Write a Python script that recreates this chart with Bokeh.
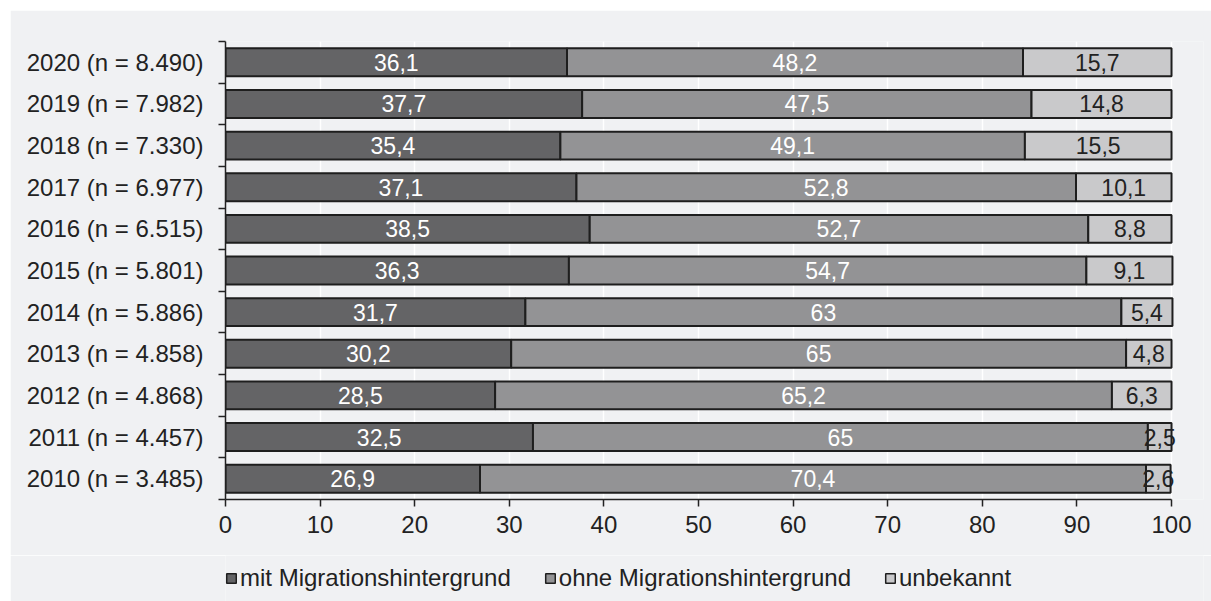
from bokeh.plotting import figure
from bokeh.layouts import column
from bokeh.models import ColumnDataSource, FixedTicker, Legend, LegendItem, Range1d
from bokeh.embed import file_html
from bokeh.resources import INLINE
from bokeh.core.properties import value

# ---- data (bottom to top) ----
categories = ["2010 (n = 3.485)", "2011 (n = 4.457)", "2012 (n = 4.868)", "2013 (n = 4.858)",
              "2014 (n = 5.886)", "2015 (n = 5.801)", "2016 (n = 6.515)", "2017 (n = 6.977)",
              "2018 (n = 7.330)", "2019 (n = 7.982)", "2020 (n = 8.490)"]
mit = [26.9, 32.5, 28.5, 30.2, 31.7, 36.3, 38.5, 37.1, 35.4, 37.7, 36.1]
ohne = [70.4, 65, 65.2, 65, 63, 54.7, 52.7, 52.8, 49.1, 47.5, 48.2]
unbekannt = [2.6, 2.5, 6.3, 4.8, 5.4, 9.1, 8.8, 10.1, 15.5, 14.8, 15.7]
series_names = ["mit Migrationshintergrund", "ohne Migrationshintergrund", "unbekannt"]
x_ticks = [0, 10, 20, 30, 40, 50, 60, 70, 80, 90, 100]

colors = ["#646466", "#939395", "#c9c9cb"]
label_colors = ["#ffffff", "#ffffff", "#222222"]
BG = "#f0f1f3"
FONT = "Liberation Sans"
EDGE = "#1e1e1e"


def fmt(v):
    return ("%g" % v).replace(".", ",")


n = len(categories)
ys = [i + 0.5 for i in range(n)]

# frame spans a little past 100 so that overflowing labels stay visible
p = figure(width=1201, height=545, output_backend="svg", toolbar_location=None,
           x_range=Range1d(0, 103.38), y_range=Range1d(0, n),
           min_border_left=215, min_border_right=8, min_border_top=31, min_border_bottom=56)
p.background_fill_color = BG
p.border_fill_color = BG
p.outline_line_color = None

series = [mit, ohne, unbekannt]
lefts = [0.0] * n
legend_sources = []
text_x, text_y, text_s, text_c = [], [], [], []
for k, vals in enumerate(series):
    rights = [l + v for l, v in zip(lefts, vals)]
    src = ColumnDataSource(dict(y=ys, left=lefts, right=rights))
    # same bars without a vertical position: used only to draw the legend swatches
    legend_sources.append(ColumnDataSource(dict(y=[float("nan")] * n, left=lefts, right=rights)))
    p.hbar(y="y", left="left", right="right", height=0.67, source=src,
           fill_color=colors[k], line_color=EDGE, line_width=2)
    for i in range(n):
        text_x.append((lefts[i] + rights[i]) / 2)
        text_y.append(ys[i])
        text_s.append(fmt(vals[i]))
        text_c.append(label_colors[k])
    lefts = rights

tsrc = ColumnDataSource(dict(x=text_x, y=text_y, t=text_s, c=text_c))
p.text(x="x", y="y", text="t", text_color="c", source=tsrc,
       text_font=value(FONT), text_font_size=value("23px"),
       text_align="center", text_baseline="middle")

# grid
p.xgrid.ticker = FixedTicker(ticks=x_ticks)
p.xgrid.grid_line_color = "#ffffff"
p.xgrid.grid_line_width = 1.5
p.ygrid.grid_line_color = None

# x axis
p.xaxis.ticker = FixedTicker(ticks=x_ticks)
p.xaxis.bounds = (x_ticks[0], x_ticks[-1])
p.xaxis.major_tick_out = 7
p.xaxis.major_tick_in = 0
p.xaxis.minor_tick_line_color = None
p.xaxis.axis_line_color = "#222222"
p.xaxis.axis_line_width = 1.5
p.xaxis.major_tick_line_color = "#222222"
p.xaxis.major_tick_line_width = 1.5
p.xaxis.major_label_text_font = FONT
p.xaxis.major_label_text_font_size = "24px"
p.xaxis.major_label_text_color = "#222222"
p.xaxis.major_label_standoff = 9

# y axis: labels at centres, ticks at boundaries
p.yaxis.ticker = FixedTicker(ticks=ys, minor_ticks=list(range(n + 1)))
p.yaxis.major_label_overrides = {y: c for y, c in zip(ys, categories)}
p.yaxis.major_tick_line_color = None
p.yaxis.major_tick_out = 0
p.yaxis.major_tick_in = 0
p.yaxis.minor_tick_out = 7
p.yaxis.minor_tick_in = 0
p.yaxis.minor_tick_line_color = "#222222"
p.yaxis.minor_tick_line_width = 1.5
p.yaxis.axis_line_color = "#222222"
p.yaxis.axis_line_width = 1.5
p.yaxis.major_label_text_font = FONT
p.yaxis.major_label_text_font_size = "24px"
p.yaxis.major_label_text_color = "#222222"
p.yaxis.major_label_standoff = 15

# legend strip
lg = figure(width=1201, height=46, output_backend="svg", toolbar_location=None,
            x_range=Range1d(0, 103.38), y_range=Range1d(0, 1),
            min_border_left=215, min_border_right=8, min_border_top=0, min_border_bottom=0)
lg.background_fill_color = BG
lg.border_fill_color = BG
lg.outline_line_color = None
lg.axis.visible = False
lg.grid.visible = False
lrs = [lg.hbar(y="y", left="left", right="right", height=0.67, source=legend_sources[k],
               fill_color=colors[k], line_color=EDGE, line_width=1.5) for k in range(3)]
legend = Legend(items=[LegendItem(label=series_names[k], renderers=[lrs[k]]) for k in range(3)],
                orientation="horizontal", location=(0, 9),
                glyph_width=12, glyph_height=12, label_standoff=3, spacing=33,
                padding=0, margin=0, border_line_color=None, background_fill_alpha=0,
                label_text_font=FONT, label_text_font_size="24px", label_text_color="#222222")
lg.add_layout(legend, "center")

layout = column(p, lg, spacing=0, margin=(10, 0, 0, 10))
open("out.html", "w").write(file_html(layout, INLINE))
